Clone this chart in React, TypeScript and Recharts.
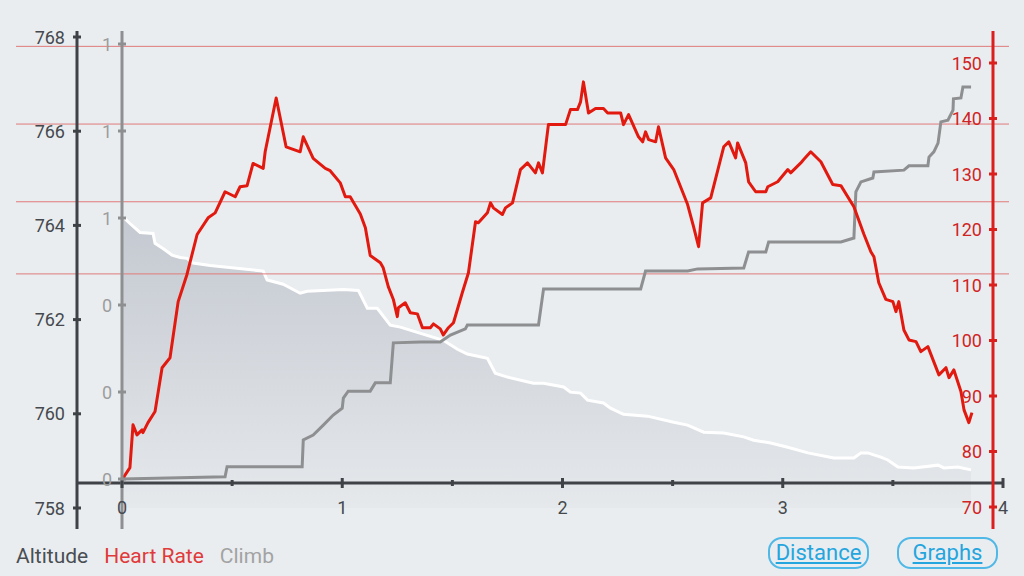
import React from "react";
import { ComposedChart, Area, Line, XAxis, YAxis, ReferenceLine } from "recharts";

// distance in km along the route
const ALT_DIST = [0, 0.036, 0.082, 0.141, 0.15, 0.186, 0.227, 0.264, 0.295, 0.323, 0.4, 0.477, 0.641, 0.659, 0.732, 0.764, 0.809, 0.841, 1.005, 1.073, 1.114, 1.159, 1.218, 1.264, 1.341, 1.459, 1.523, 1.568, 1.659, 1.695, 1.75, 1.868, 1.914, 2.005, 2.036, 2.082, 2.114, 2.186, 2.218, 2.277, 2.386, 2.505, 2.568, 2.641, 2.732, 2.823, 2.868, 2.945, 3.023, 3.114, 3.232, 3.323, 3.355, 3.386, 3.445, 3.477, 3.523, 3.595, 3.705, 3.732, 3.795, 3.855];
const ALT_M = [764.2, 764.04, 763.85, 763.83, 763.62, 763.51, 763.37, 763.32, 763.3, 763.2, 763.15, 763.11, 763.03, 762.84, 762.75, 762.67, 762.56, 762.6, 762.64, 762.62, 762.24, 762.24, 761.88, 761.84, 761.73, 761.56, 761.37, 761.27, 761.18, 760.86, 760.78, 760.65, 760.65, 760.57, 760.46, 760.44, 760.29, 760.23, 760.12, 759.99, 759.95, 759.82, 759.76, 759.61, 759.59, 759.51, 759.44, 759.38, 759.29, 759.17, 759.06, 759.06, 759.17, 759.17, 759.08, 759.02, 758.87, 758.85, 758.91, 758.85, 758.87, 758.81];

const HR_DIST = [0, 0.036, 0.05, 0.068, 0.091, 0.095, 0.118, 0.15, 0.182, 0.218, 0.255, 0.295, 0.341, 0.391, 0.423, 0.468, 0.514, 0.536, 0.568, 0.595, 0.641, 0.65, 0.7, 0.745, 0.809, 0.823, 0.868, 0.923, 0.945, 0.991, 1.014, 1.036, 1.082, 1.105, 1.127, 1.173, 1.186, 1.209, 1.232, 1.25, 1.255, 1.286, 1.309, 1.341, 1.364, 1.4, 1.414, 1.445, 1.459, 1.482, 1.505, 1.545, 1.573, 1.605, 1.618, 1.659, 1.673, 1.686, 1.727, 1.741, 1.773, 1.809, 1.841, 1.877, 1.891, 1.909, 1.936, 2.014, 2.036, 2.068, 2.082, 2.095, 2.118, 2.15, 2.186, 2.205, 2.264, 2.277, 2.3, 2.345, 2.364, 2.377, 2.391, 2.423, 2.436, 2.468, 2.505, 2.568, 2.595, 2.618, 2.636, 2.673, 2.732, 2.755, 2.786, 2.795, 2.832, 2.845, 2.877, 2.923, 2.932, 2.977, 3.023, 3.036, 3.082, 3.095, 3.127, 3.173, 3.227, 3.264, 3.323, 3.368, 3.4, 3.414, 3.436, 3.468, 3.5, 3.514, 3.527, 3.55, 3.573, 3.605, 3.627, 3.659, 3.709, 3.741, 3.755, 3.777, 3.809, 3.823, 3.845, 3.859];
const HR_BPM = [74.9, 77.1, 84.8, 83.0, 83.9, 83.4, 85.2, 87.2, 95.1, 96.9, 107.0, 111.9, 119.1, 122.1, 123.0, 126.8, 125.9, 127.7, 127.9, 131.9, 131.0, 134.0, 143.7, 134.9, 134.0, 136.7, 132.8, 131.0, 130.6, 128.4, 125.9, 125.9, 122.8, 120.3, 115.3, 114.0, 113.1, 109.7, 107.4, 104.3, 105.9, 106.8, 105.0, 104.8, 102.3, 102.3, 103.0, 102.1, 101.0, 102.3, 103.2, 108.6, 112.2, 121.4, 121.2, 123.0, 124.8, 123.9, 122.7, 123.9, 124.8, 130.8, 132.0, 130.2, 132.0, 130.2, 138.9, 138.9, 141.6, 141.6, 143.0, 146.6, 141.0, 141.8, 141.8, 141.0, 141.0, 138.9, 140.7, 136.7, 135.8, 137.6, 136.2, 135.8, 138.5, 132.9, 130.8, 124.5, 120.5, 116.9, 124.8, 125.7, 134.9, 135.8, 132.9, 135.6, 132.0, 128.6, 126.8, 126.8, 127.7, 128.6, 130.8, 130.2, 132.0, 132.6, 134.0, 132.2, 128.1, 127.9, 124.1, 119.2, 116.0, 115.1, 110.4, 107.4, 107.0, 105.2, 107.0, 101.9, 100.1, 99.8, 98.0, 98.9, 93.8, 95.1, 93.3, 94.7, 90.8, 87.5, 85.2, 87.0];

const CLIMB_DIST = [0, 0.468, 0.477, 0.818, 0.823, 0.868, 0.914, 0.959, 1.0, 1.005, 1.027, 1.127, 1.15, 1.218, 1.232, 1.355, 1.445, 1.491, 1.559, 1.568, 1.891, 1.914, 2.355, 2.377, 2.568, 2.614, 2.823, 2.845, 2.923, 2.936, 3.264, 3.323, 3.332, 3.355, 3.409, 3.414, 3.55, 3.573, 3.659, 3.664, 3.686, 3.705, 3.718, 3.75, 3.773, 3.775, 3.809, 3.818, 3.855];
const CLIMB_VAL = [0, 0.005, 0.028, 0.028, 0.09, 0.101, 0.124, 0.147, 0.163, 0.186, 0.202, 0.202, 0.221, 0.221, 0.313, 0.315, 0.315, 0.331, 0.345, 0.354, 0.354, 0.437, 0.437, 0.478, 0.478, 0.483, 0.485, 0.522, 0.522, 0.545, 0.545, 0.554, 0.66, 0.683, 0.692, 0.706, 0.71, 0.72, 0.72, 0.74, 0.752, 0.772, 0.821, 0.825, 0.848, 0.874, 0.876, 0.901, 0.901];

const DIST_TICKS = [0, 0.5, 1, 1.5, 2, 2.5, 3, 3.5, 4];
const ALT_TICKS = [758, 760, 762, 764, 766, 768];
const HR_TICKS = [70, 80, 90, 100, 110, 120, 130, 140, 150];
const CLIMB_TICKS = [0, 0.2, 0.4, 0.6, 0.8, 1];
const HR_ZONES = [112, 125, 139, 153];

const altitudeData = ALT_DIST.map((d, i) => ({ d, v: ALT_M[i] }));
const hrData = HR_DIST.map((d, i) => ({ d, v: HR_BPM[i] }));
const climbData = CLIMB_DIST.map((d, i) => ({ d, v: CLIMB_VAL[i] }));

const FONT = "Roboto, 'Noto Sans', sans-serif";
const DARK = "#3f4348";
const GREY = "#8e8f91";
const RED = "#dc1f1c";

// tick mark crossing the axis line, label on its left
const yTick = (textColor: string, markColor: string, gap: number, fmt: (v: number) => string) => (props: any) => {
  const { x, y, payload } = props;
  return (
    <g>
      <line x1={x - 4} x2={x + 4} y1={y} y2={y} stroke={markColor} strokeWidth={3} />
      <text x={x - gap} y={y} textAnchor="end" dominantBaseline="central" fill={textColor} fontSize={18} fontFamily={FONT}>
        {fmt(payload.value)}
      </text>
    </g>
  );
};

// the distance axis sits above the bottom of the plot, so ticks are drawn up from there
const xTick = (props: any) => {
  const { x, y, payload } = props;
  const v = payload.value;
  const major = Number.isInteger(v);
  const axisY = y - 46;
  const h = major ? 5 : 3;
  return (
    <g>
      <line x1={x} x2={x} y1={axisY - h} y2={axisY + h} stroke={DARK} strokeWidth={3} />
      {major && (
        <text x={x} y={y - 22} textAnchor="middle" dominantBaseline="central" fill="#45494e" fontSize={18} fontFamily={FONT}>
          {v}
        </text>
      )}
    </g>
  );
};

// zone lines run across the whole card
const zoneLine = (p: any) => (
  <line x1={16} x2={1009} y1={p.y1} y2={p.y2} stroke="#e07a7a" strokeWidth={1} />
);

const baseLine = (p: any) => (
  <line x1={77} x2={1004} y1={p.y1 + 4} y2={p.y2 + 4} stroke={DARK} strokeWidth={3} />
);

const legendItems = [
  { name: "Altitude", color: "#4a4e53" },
  { name: "Heart Rate", color: "#e03a3a" },
  { name: "Climb", color: "#a3a3a3" },
];

const buttonStyle: React.CSSProperties = {
  position: "absolute",
  top: 537,
  width: 101,
  height: 32,
  boxSizing: "border-box",
  border: "2px solid #4fb8e6",
  borderRadius: 14,
  color: "#25a5de",
  textDecoration: "underline",
  fontSize: 22,
  lineHeight: "28px",
  textAlign: "center",
  fontFamily: FONT,
};

export default function App() {
  return (
    <div style={{ position: "absolute", left: 0, top: 0, width: 1024, height: 576, background: "#e9edf0", overflow: "hidden", fontFamily: FONT }}>
      <ComposedChart width={1024} height={576} margin={{ top: 31, right: 31, bottom: 17, left: 0 }}>
        <defs>
          <linearGradient id="altFill" x1="0" y1="0" x2="0" y2="1">
            <stop offset="0%" stopColor="#c4c8d0" />
            <stop offset="100%" stopColor="#e5e9ec" />
          </linearGradient>
        </defs>
        <XAxis
          type="number"
          dataKey="d"
          domain={[0, 4]}
          ticks={DIST_TICKS}
          interval={0}
          padding={{ left: 0, right: -10 }}
          height={30}
          axisLine={false}
          tickLine={false}
          tickSize={0}
          tickMargin={0}
          tick={xTick}
        />
        <YAxis
          yAxisId="climb"
          orientation="left"
          width={45}
          domain={[0, 1]}
          ticks={CLIMB_TICKS}
          interval={0}
          padding={{ top: 13, bottom: 50 }}
          axisLine={{ stroke: GREY, strokeWidth: 3 }}
          tickLine={false}
          tickSize={0}
          tickMargin={0}
          tick={yTick("#9d9d9d", GREY, 10, (v) => String(Math.round(v)))}
        />
        <YAxis
          yAxisId="elev"
          orientation="left"
          width={77}
          domain={[758, 768]}
          ticks={ALT_TICKS}
          interval={0}
          padding={{ top: 6, bottom: 21 }}
          axisLine={{ stroke: DARK, strokeWidth: 3 }}
          tickLine={false}
          tickSize={0}
          tickMargin={0}
          tick={yTick("#45494e", DARK, 12, (v) => String(v))}
        />
        <YAxis
          yAxisId="hr"
          orientation="right"
          mirror
          width={60}
          domain={[70, 150]}
          ticks={HR_TICKS}
          interval={0}
          padding={{ top: 32, bottom: 22 }}
          axisLine={{ stroke: RED, strokeWidth: 3 }}
          tickLine={false}
          tickSize={0}
          tickMargin={0}
          tick={yTick("#d02424", RED, 11, (v) => String(v))}
        />
        <Area
          yAxisId="elev"
          data={altitudeData}
          dataKey="v"
          type="linear"
          stroke="#ffffff"
          strokeWidth={3}
          fill="url(#altFill)"
          fillOpacity={1}
          isAnimationActive={false}
        />
        {HR_ZONES.map((z) => (
          <ReferenceLine key={z} yAxisId="hr" y={z} ifOverflow="visible" shape={zoneLine} />
        ))}
        <ReferenceLine yAxisId="climb" y={0} ifOverflow="visible" shape={baseLine} />
        <Line
          yAxisId="climb"
          data={climbData}
          dataKey="v"
          type="linear"
          stroke={GREY}
          strokeWidth={3}
          dot={false}
          isAnimationActive={false}
        />
        <Line
          yAxisId="hr"
          data={hrData}
          dataKey="v"
          type="linear"
          stroke="#e2190f"
          strokeWidth={3}
          strokeLinejoin="round"
          dot={false}
          isAnimationActive={false}
        />
      </ComposedChart>
      <div style={{ position: "absolute", left: 16, top: 544, fontSize: 21, display: "flex", gap: 16 }}>
        {legendItems.map((it) => (
          <span key={it.name} style={{ color: it.color }}>{it.name}</span>
        ))}
      </div>
      <div style={{ ...buttonStyle, left: 768 }}>Distance</div>
      <div style={{ ...buttonStyle, left: 897 }}>Graphs</div>
    </div>
  );
}
